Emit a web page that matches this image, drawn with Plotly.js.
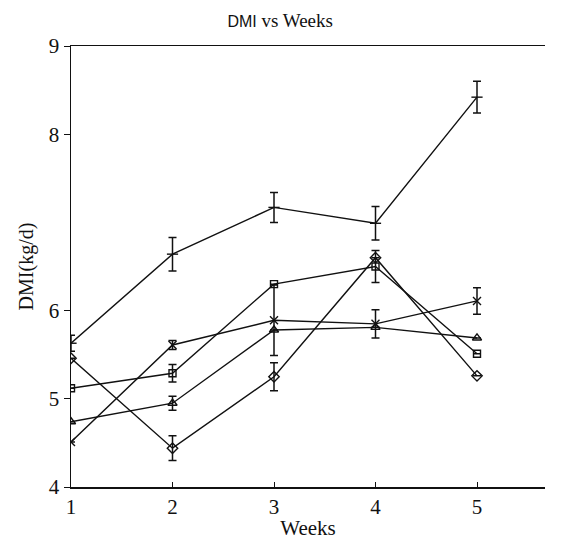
<!DOCTYPE html>
<html>
<head>
<meta charset="utf-8">
<script src="https://cdn.plot.ly/plotly-3.0.1.min.js"></script>
<style>html,body{margin:0;padding:0;background:#fff;}#chart{width:566px;height:543px;}</style>
</head>
<body>
<div id="chart"></div>
<script>
const weeks = [1, 2, 3, 4, 5];
const seriesBar = [5.63, 6.64, 7.17, 6.99, 8.42];
const seriesBarErr = [0.09, 0.19, 0.17, 0.19, 0.18];
const seriesSquare = [5.12, 5.29, 6.30, 6.50, 5.51];
const seriesSquareErr = [0, 0.10, 0, 0.18, 0];
const seriesDiamond = [5.46, 4.44, 5.25, 6.60, 5.26];
const seriesDiamondErr = [0, 0.14, 0.16, 0, 0];
const seriesTriangle = [4.74, 4.95, 5.78, 5.81, 5.69];
const seriesTriangleErr = [0, 0.08, 0, 0, 0];
const seriesCross = [4.51, 5.61, 5.89, 5.85, 6.11];
const seriesCrossErr = [0, 0.05, 0.40, 0.16, 0.15];
const yTicks = [4, 5, 6, 8, 9];
const yTickText = ['4', '5', '6', '8', '9'];
const xTicks = [1, 2, 3, 4, 5];

function tr(y, err, symbol, size) {
  return {
    x: weeks, y: y, type: 'scatter', mode: 'lines+markers',
    line: {color: '#111', width: 1.4},
    marker: {symbol: symbol, size: size, color: '#111', line: {color: '#111', width: 1.4}},
    error_y: {type: 'data', array: err, visible: true, color: '#111', thickness: 1.5, width: 4},
    showlegend: false, hoverinfo: 'skip'
  };
}

const data = [
  tr(seriesCross, seriesCrossErr, 'x-thin-open', 8),
  tr(seriesTriangle, seriesTriangleErr, 'triangle-up-open', 8),
  tr(seriesDiamond, seriesDiamondErr, 'diamond-open', 8),
  tr(seriesSquare, seriesSquareErr, 'square-open', 7),
  tr(seriesBar, seriesBarErr, 'line-ew-open', 8)
];

const layout = {
  width: 566, height: 543,
  margin: {l: 71, r: 21, t: 46, b: 56},
  paper_bgcolor: '#fff', plot_bgcolor: '#fff',
  title: {
    text: '<span style="font-family:Liberation Sans, Arial, sans-serif;font-size:16px">DMI</span> <span style="font-family:Liberation Serif, Times New Roman, serif">vs Weeks</span>',
    x: 0.495, xanchor: 'center', y: 0.962, yanchor: 'middle',
    font: {size: 19, color: '#111', family: 'Liberation Serif, serif'}
  },
  font: {family: 'Liberation Serif, Times New Roman, serif', color: '#111'},
  xaxis: {
    range: [1, 5.67], tickvals: xTicks, ticktext: xTicks.map(String),
    showgrid: false, zeroline: false, showline: true, linecolor: '#111', linewidth: 1.5,
    mirror: true, ticks: 'inside', ticklen: 5, tickcolor: '#111',
    tickfont: {size: 21, color: '#111'},
    title: {text: 'Weeks', font: {size: 21, color: '#111'}, standoff: 2}
  },
  yaxis: {
    range: [4, 9], tickvals: yTicks, ticktext: yTickText,
    showgrid: false, zeroline: false, showline: true, linecolor: '#111', linewidth: 1.5,
    ticks: 'outside', ticklen: 6, tickcolor: '#111',
    tickfont: {size: 21, color: '#111'},
    title: {text: 'DMI(kg/d)', font: {size: 20, color: '#111'}, standoff: 10}
  }
};

Plotly.newPlot('chart', data, layout, {displayModeBar: false, staticPlot: true});
</script>
</body>
</html>
